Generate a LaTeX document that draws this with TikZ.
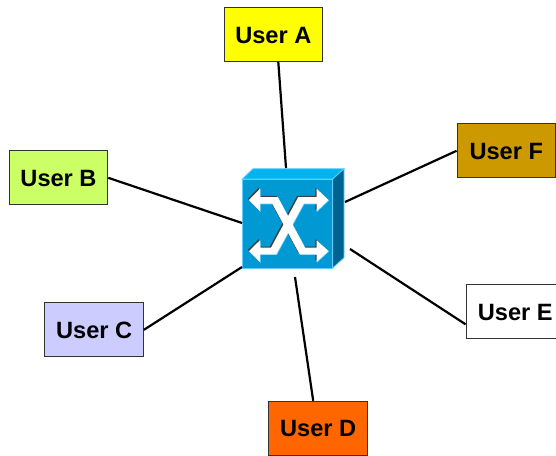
\documentclass[tikz,border=0pt]{standalone}
\usepackage{fontspec}
\setmainfont{Liberation Sans}
\definecolor{frontblue}{RGB}{0,153,212}
\definecolor{topblue}{RGB}{0,180,238}
\definecolor{sideblue}{RGB}{0,99,144}
\definecolor{edgeblue}{RGB}{102,204,255}
\definecolor{userayellow}{RGB}{255,255,0}
\definecolor{userbgreen}{RGB}{204,255,102}
\definecolor{usercblue}{RGB}{204,204,255}
\definecolor{userdorange}{RGB}{255,102,0}
\definecolor{userfbrown}{RGB}{204,153,0}
\tikzset{
  user/.style={draw=black!80, line width=1pt, minimum width=98.5pt, minimum height=54pt, inner sep=0pt, text height=17pt, text depth=0pt, font=\fontsize{23.6}{24}\selectfont\bfseries},
  link/.style={draw=black, line width=2.2pt},
  arrowshade/.style={fill=black!75, draw=none},
  arrowglow/.style={fill=edgeblue, draw=none},
  arrowwhite/.style={fill=white, draw=none}
}
\newcommand{\strandone}{(249,200) -- (260,188.7) -- (260,197) -- (277.7,197) -- (305,247.7) -- (316.5,247.7) -- (316.5,240.3) -- (328.5,251) -- (316.5,262) -- (316.5,254.3) -- (299.7,254.3) -- (272.3,203.7) -- (260,203.7) -- (260,211.3) -- cycle}
\newcommand{\strandtwo}{(328.5,200) -- (316.5,188.7) -- (316.5,197) -- (298.3,197) -- (271,247.7) -- (260,247.7) -- (260,240.3) -- (249,251) -- (260,262) -- (260,254.3) -- (276.3,254.3) -- (303.7,203.7) -- (316.5,203.7) -- (316.5,211.3) -- cycle}
\begin{document}
\begin{tikzpicture}[x=1pt,y=-1pt]
\useasboundingbox (0,0) rectangle (556,455);

\node[user, fill=userayellow] (userA) at (273.3,34.5) {User A};
\node[user, fill=userbgreen] (userB) at (58.5,177.8) {User B};
\node[user, fill=usercblue] (userC) at (94.2,329.8) {User C};
\node[user, fill=userdorange] (userD) at (318.2,428.3) {User D};
\node[user, fill=white] (userE) at (515.3,311.8) {User E};
\node[user, fill=userfbrown] (userF) at (506.3,150.8) {User F};

% switch
\draw[fill=topblue, draw=edgeblue, line width=0.8pt] (242.3,179) -- (253,168.7) -- (344,168.7) -- (332.7,179) -- cycle;
\draw[fill=sideblue, draw=edgeblue, line width=0.8pt] (332.7,179) -- (344,168.7) -- (344,257.7) -- (332.7,268) -- cycle;
\draw[fill=frontblue, draw=edgeblue, line width=0.8pt] (242.3,179) rectangle (332.7,268);

\begin{scope}[shift={(-1.2,-1.2)}]
\path[arrowshade] \strandone;
\path[arrowshade] \strandtwo;
\end{scope}
\begin{scope}[shift={(0.6,0.6)}]
\path[arrowglow] \strandone;
\path[arrowglow] \strandtwo;
\end{scope}
\path[arrowwhite] \strandone;
\path[arrowwhite] \strandtwo;

\coordinate (endA) at (286,168);
\coordinate (endB) at (242,223);
\coordinate (endC) at (242,267);
\coordinate (endD) at (295,277);
\coordinate (endE) at (350,249);
\coordinate (endF) at (345,202);

\draw[link] ([xshift=5pt]userA.south) -- (endA);
\draw[link] (userB.east) -- (endB);
\draw[link] (userC.east) -- (endC);
\draw[link] ([xshift=-5pt]userD.north) -- (endD);
\draw[link] ([yshift=-12.5pt]userE.west) -- (endE);
\draw[link] (userF.west) -- (endF);
\end{tikzpicture}
\end{document}
